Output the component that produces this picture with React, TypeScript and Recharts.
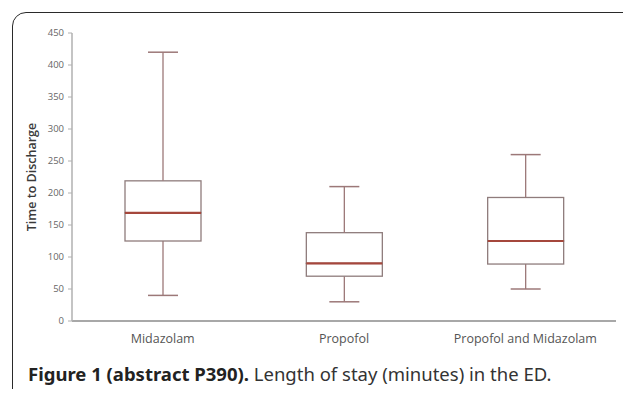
import { Bar, ComposedChart, XAxis, YAxis } from 'recharts';

const groups = ['Midazolam', 'Propofol', 'Propofol and  Midazolam'];
const minimum = [40, 30, 50];
const q1 = [125, 70, 89];
const median = [169, 90, 125];
const q3 = [219, 138, 193];
const maximum = [420, 210, 260];
const yTicks = [0, 50, 100, 150, 200, 250, 300, 350, 400, 450];
const bounds = [0, 1, 2, 3];

const data = groups.map((name, i) => ({
  name,
  pos: i + 0.5,
  base: minimum[i],
  lowWhisker: q1[i] - minimum[i],
  lowBox: median[i] - q1[i],
  highBox: q3[i] - median[i],
  highWhisker: maximum[i] - q3[i],
}));

const boxStroke = '#8f7c7c';
const whiskerStroke = '#9c7878';
const medianStroke = '#a5473c';

const LowWhisker = (p: any) => {
  const cx = p.x + p.width / 2;
  return (
    <g>
      <line x1={cx} x2={cx} y1={p.y} y2={p.y + p.height} stroke={whiskerStroke} strokeWidth={1.3} />
      <line x1={cx - 15} x2={cx + 15} y1={p.y + p.height} y2={p.y + p.height} stroke={whiskerStroke} strokeWidth={1.5} />
    </g>
  );
};

const HighWhisker = (p: any) => {
  const cx = p.x + p.width / 2;
  return (
    <g>
      <line x1={cx} x2={cx} y1={p.y} y2={p.y + p.height} stroke={whiskerStroke} strokeWidth={1.3} />
      <line x1={cx - 15} x2={cx + 15} y1={p.y} y2={p.y} stroke={whiskerStroke} strokeWidth={1.5} />
    </g>
  );
};

const LowBox = (p: any) => (
  <rect x={p.x} y={p.y} width={p.width} height={p.height} fill="#fff" stroke={boxStroke} strokeWidth={1.3} />
);

const HighBox = (p: any) => (
  <g>
    <rect x={p.x} y={p.y} width={p.width} height={p.height} fill="#fff" stroke={boxStroke} strokeWidth={1.3} />
    <line x1={p.x} x2={p.x + p.width} y1={p.y + p.height} y2={p.y + p.height} stroke={medianStroke} strokeWidth={2.2} />
  </g>
);

export default function App() {
  return (
    <div style={{ position: 'relative', width: 631, height: 397, margin: -8, overflow: 'hidden', background: '#fff' }}>
      <div
        style={{
          position: 'absolute',
          left: 12,
          top: 12,
          width: 640,
          height: 420,
          border: '1.5px solid #2a2a2a',
          borderTopLeftRadius: 14,
          borderTopRightRadius: 12,
          boxSizing: 'border-box',
        }}
      />
      <div style={{ position: 'absolute', left: 0, top: 0 }}>
        <ComposedChart
          width={631}
          height={360}
          data={data}
          barCategoryGap={0}
          margin={{ top: 33, right: 15, left: 32, bottom: 9 }}
        >
          <XAxis
            dataKey="pos"
            xAxisId="bound"
            type="number"
            domain={[0, 3]}
            ticks={bounds}
            axisLine={false}
            tickLine={{ stroke: '#999', strokeWidth: 1.2 }}
            tickSize={4}
            tick={false}
            height={0}
          />
          <XAxis
            dataKey="name"
            xAxisId="cat"
            axisLine={{ stroke: '#a8a8a8', strokeWidth: 2 }}
            tickLine={false}
            tickMargin={7}
            interval={0}
            tick={{ fontSize: 12.5, fill: '#555', fontFamily: 'Open Sans' }}
            height={30}
          />
          <YAxis
            domain={[0, 450]}
            ticks={yTicks}
            width={40}
            axisLine={{ stroke: '#b0b0b0', strokeWidth: 1.5 }}
            tickLine={{ stroke: '#b0b0b0' }}
            tickSize={4}
            tickMargin={4}
            tick={{ fontSize: 9.5, fill: '#666', fontFamily: 'Open Sans' }}
            label={{
              value: 'Time to Discharge',
              angle: -90,
              position: 'insideLeft',
              offset: 0,
              style: { textAnchor: 'middle', fontSize: 12.5, fontWeight: 600, fill: '#3a3a3a', fontFamily: 'Open Sans' },
            }}
          />
          <Bar dataKey="base" stackId="b" xAxisId="cat" fill="transparent" barSize={76} isAnimationActive={false} />
          <Bar dataKey="lowWhisker" stackId="b" xAxisId="cat" shape={LowWhisker} barSize={76} isAnimationActive={false} />
          <Bar dataKey="lowBox" stackId="b" xAxisId="cat" shape={LowBox} barSize={76} isAnimationActive={false} />
          <Bar dataKey="highBox" stackId="b" xAxisId="cat" shape={HighBox} barSize={76} isAnimationActive={false} />
          <Bar dataKey="highWhisker" stackId="b" xAxisId="cat" shape={HighWhisker} barSize={76} isAnimationActive={false} />
        </ComposedChart>
      </div>
      <div
        style={{
          position: 'absolute',
          left: 28,
          top: 361,
          fontFamily: 'Noto Sans',
          fontSize: 18.5,
          color: '#333',
          whiteSpace: 'nowrap',
        }}
      >
        <b style={{ color: '#222' }}>Figure 1 (abstract P390).</b> Length of stay (minutes) in the ED.
      </div>
    </div>
  );
}
